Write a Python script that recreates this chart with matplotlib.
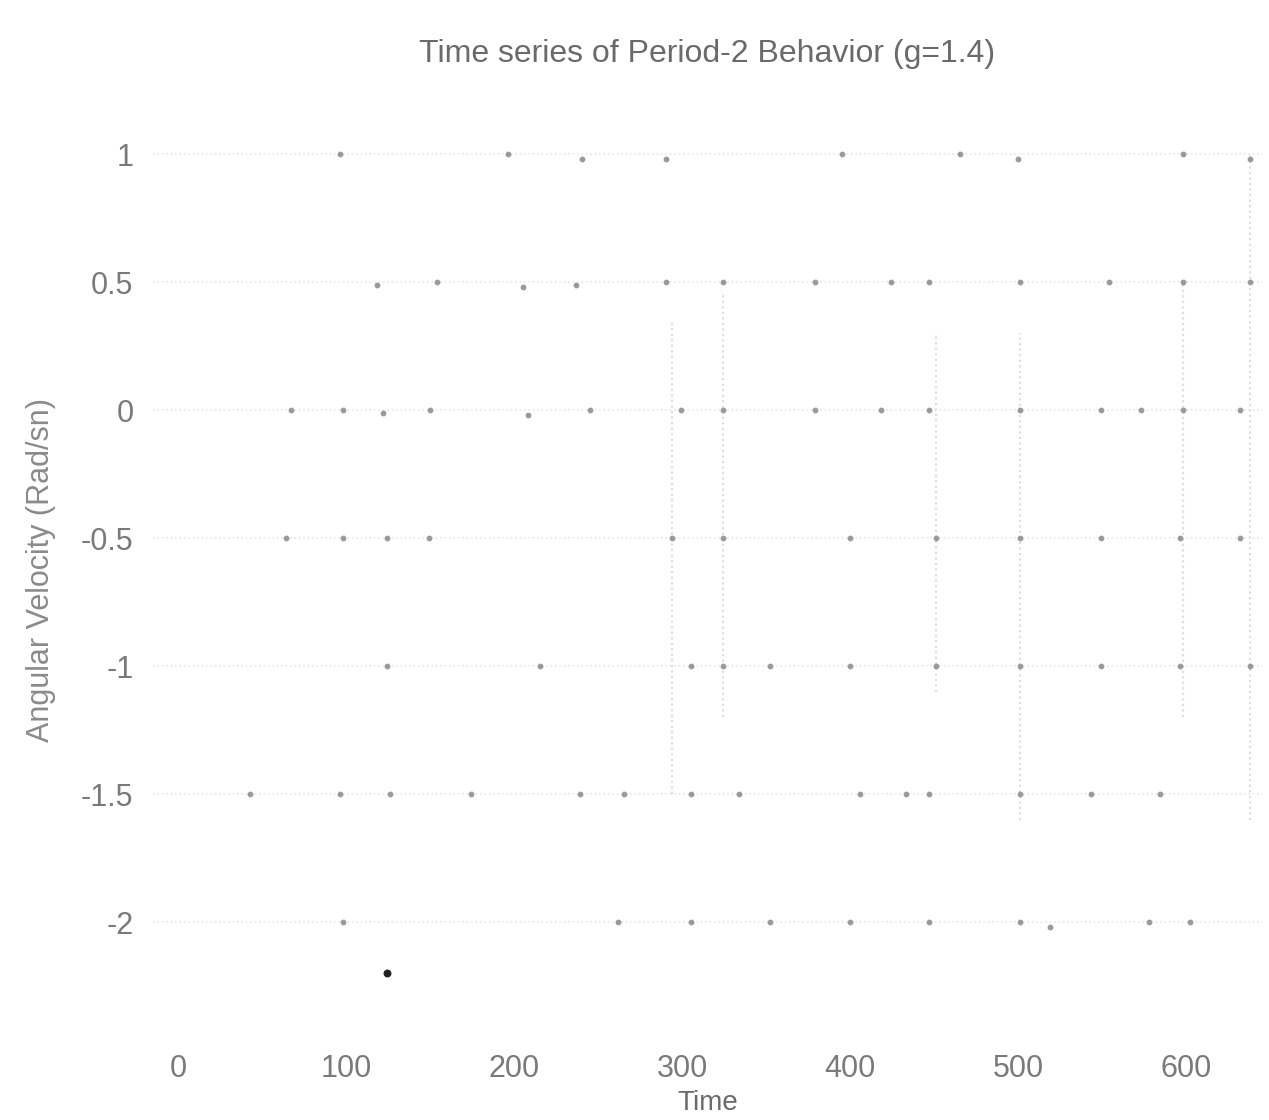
import matplotlib
matplotlib.use("Agg")
from matplotlib import pyplot as plt

# visible points (time, angular velocity)
times = [96, 196, 240, 290, 395, 465, 500, 598, 638,
         118, 154, 205, 237, 290, 324, 379, 424, 447, 501, 554, 598, 638,
         67, 98, 122, 150, 208, 245, 299, 324, 379, 418, 447, 501, 549, 573, 598, 632,
         64, 98, 124, 149, 294, 324, 400, 451, 501, 549, 596, 632,
         124, 215, 305, 324, 352, 400, 451, 501, 549, 596, 638,
         43, 96, 126, 174, 239, 265, 305, 334, 406, 433, 447, 501, 543, 584,
         98, 262, 305, 352, 400, 447, 501, 519, 578, 602,
         124]
omega = [1.0, 1.0, 0.98, 0.98, 1.0, 1.0, 0.98, 1.0, 0.98,
         0.49, 0.5, 0.48, 0.49, 0.5, 0.5, 0.5, 0.5, 0.5, 0.5, 0.5, 0.5, 0.5,
         0.0, 0.0, -0.01, 0.0, -0.02, 0.0, 0.0, 0.0, 0.0, 0.0, 0.0, 0.0, 0.0, 0.0, 0.0, 0.0,
         -0.5, -0.5, -0.5, -0.5, -0.5, -0.5, -0.5, -0.5, -0.5, -0.5, -0.5, -0.5,
         -1.0, -1.0, -1.0, -1.0, -1.0, -1.0, -1.0, -1.0, -1.0, -1.0, -1.0,
         -1.5, -1.5, -1.5, -1.5, -1.5, -1.5, -1.5, -1.5, -1.5, -1.5, -1.5, -1.5, -1.5, -1.5,
         -2.0, -2.0, -2.0, -2.0, -2.0, -2.0, -2.0, -2.02, -2.0, -2.0,
         -2.2]

# faint vertical streaks
streak_t = [294, 324, 451, 501, 598, 638]
streak_top = [0.35, 0.45, 0.3, 0.3, 0.5, 1.0]
streak_bot = [-1.5, -1.2, -1.1, -1.6, -1.2, -1.6]

xticks = [0, 100, 200, 300, 400, 500, 600]
yticks = [1, 0.5, 0, -0.5, -1, -1.5, -2]

plt.rcParams['font.family'] = ['Liberation Sans', 'DejaVu Sans']

fig = plt.figure(figsize=(12.69, 11.2), dpi=100)
ax = fig.add_axes([0.1206, 0.0625, 0.8739, 0.857])

ax.vlines(streak_t, streak_bot, streak_top, colors='#dcdcdc', linestyles=':', lw=1.5)
ax.scatter(times[:-1], omega[:-1], s=10, c='#9a9a9a', zorder=3)
ax.scatter(times[-1:], omega[-1:], s=22, c='#222222', zorder=3)

ax.set_xlim(-15, 645)
ax.set_ylim(-2.5, 1.25)
ax.set_xticks(xticks)
ax.set_yticks(yticks)
ax.set_yticklabels(['1', '0.5', '0', '-0.5', '-1', '-1.5', '-2'])
ax.grid(True, axis='y', color='#e6e6e6', linestyle=':', lw=1.2)
for s in ax.spines.values():
    s.set_visible(False)
ax.tick_params(axis='both', length=0, labelsize=22, labelcolor='#7a7a7a')
ax.tick_params(axis='x', pad=3)
ax.tick_params(axis='y', pad=14)

ax.set_title("Time series of Period-2 Behavior (g=1.4)", fontsize=23, color='#6a6a6a', pad=20)
ax.set_xlabel('Time', fontsize=20, color='#6a6a6a', labelpad=4)
ax.set_ylabel('Angular Velocity (Rad/sn)', fontsize=22, color='#8a8a8a', labelpad=18)

plt.savefig('out.png', dpi=100)
